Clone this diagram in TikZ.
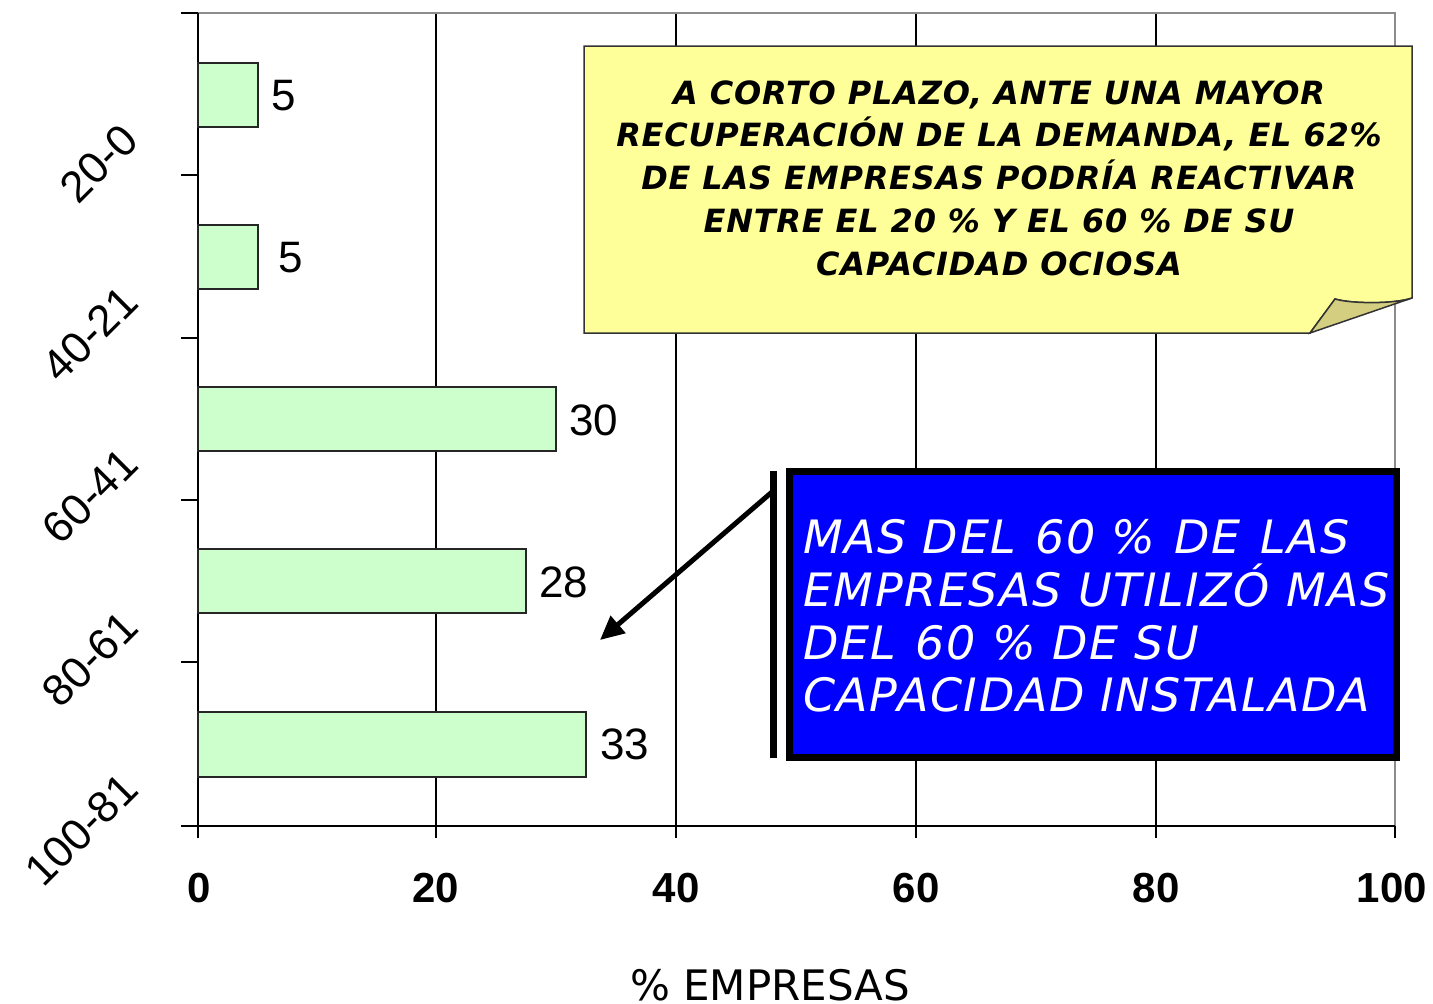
\documentclass[tikz,border=0pt]{standalone}
\usepackage{fontspec}
\setmainfont{Liberation Sans}
\newfontfamily\djv{DejaVu Sans}[BoldFont={DejaVu Sans Bold},ItalicFont={DejaVu Sans Oblique},BoldItalicFont={DejaVu Sans Bold Oblique}]
\usetikzlibrary{arrows.meta}
\definecolor{barfill}{RGB}{204,255,204}
\definecolor{note}{RGB}{255,255,153}
\definecolor{fold}{RGB}{212,206,128}
\definecolor{boxblue}{RGB}{0,0,255}
\definecolor{framegray}{RGB}{140,140,140}
\begin{document}
\begin{tikzpicture}[x=1pt,y=-1pt,
  barbox/.style={draw=black!85, line width=1.5pt, fill=barfill},
  gridline/.style={black, line width=1.5pt},
  axisline/.style={black, line width=2pt},
  vallab/.style={font=\fontsize{44}{44}\selectfont, anchor=west, inner sep=0pt},
  ticklab/.style={font=\bfseries\fontsize{42}{42}\selectfont, inner sep=0pt},
  catlab/.style={font=\fontsize{44}{44}\selectfont, rotate=45, anchor=east, inner sep=0pt}]
\useasboundingbox (0,0) rectangle (1433,1004);
\fill[white] (0,0) rectangle (1433,1004);
% grid and frame
\foreach \x in {436,676,916,1156} \draw[gridline] (\x,13) -- (\x,838);
\draw[framegray, line width=2pt] (198,13) -- (1395,13) -- (1395,826);
\draw[gridline] (1395,826) -- (1395,838);
\draw[axisline] (198,13) -- (198,838);
\draw[axisline] (181,826) -- (1395,826);
\foreach \y in {13,175,338,500,662} \draw[axisline] (181,\y) -- (198,\y);
% bars
\draw[barbox] (198,63) rectangle (258,127);
\draw[barbox] (198,225) rectangle (258,289);
\draw[barbox] (198,387) rectangle (556,451);
\draw[barbox] (198,549) rectangle (526,613);
\draw[barbox] (198,712) rectangle (586,777);
% value labels
\node[vallab] (v1) at (271,96) {5};
\node[vallab] (v2) at (278,258) {5};
\node[vallab] (v3) at (569,420) {30};
\node[vallab] (v4) at (539,582) {28};
\node[vallab] (v5) at (600,744) {33};
% category labels
\node[catlab] (c1) at (130,132) {20-0};
\node[catlab] (c2) at (130,294) {40-21};
\node[catlab] (c3) at (130,456) {60-41};
\node[catlab] (c4) at (130,619) {80-61};
\node[catlab] (c5) at (130,781) {100-81};
% tick labels
\node[ticklab] (t0) at (199,888) {0};
\node[ticklab] (t1) at (436,888) {20};
\node[ticklab] (t2) at (676,888) {40};
\node[ticklab] (t3) at (916,888) {60};
\node[ticklab] (t4) at (1156,888) {80};
\node[ticklab] (t5) at (1392,888) {100};
\node[font=\djv\fontsize{42}{42}\selectfont, anchor=base, inner sep=0pt] (xt) at (770,1000) {\% EMPRESAS};
% yellow note
\draw[fill=note, draw=black!80, line width=1.5pt] (584,46) -- (1412,46) -- (1412,298)
  .. controls (1395,304) and (1352,304) .. (1335,299) -- (1310,333) -- (584,333) -- cycle;
\draw[fill=fold, draw=black!80, line width=1.5pt] (1310,333) -- (1335,299)
  .. controls (1352,304) and (1395,304) .. (1412,298) -- cycle;
\node[font=\djv\bfseries\itshape\fontsize{32}{42.8}\selectfont\addfontfeature{LetterSpace=2.5}, align=center, inner sep=0pt] (notetext) at (999,178)
  {A CORTO PLAZO, ANTE UNA MAYOR\\RECUPERACIÓN DE LA DEMANDA, EL 62\%\\DE LAS EMPRESAS PODRÍA REACTIVAR\\ENTRE EL 20 \% Y EL 60 \% DE SU\\CAPACIDAD OCIOSA};
% blue box
\draw[fill=boxblue, line width=7pt] (789,471) rectangle (1396,757);
\draw[line width=7pt] (773,471) -- (773,758);
\node[font=\djv\itshape\fontsize{46}{52.7}\selectfont\addfontfeature{LetterSpace=3.5}, text=white, align=left, anchor=west, inner sep=0pt] (boxtext) at (803,616)
  {MAS DEL\hspace{3pt} 60 \%\hspace{3pt} DE\hspace{3pt} LAS\\EMPRESAS UTILIZÓ MAS\\DEL\hspace{3pt} 60 \% DE SU\\CAPACIDAD INSTALADA};
\coordinate (arrs) at (772,492);
\coordinate (arre) at (600,640);
\draw[line width=5pt, -{Triangle[length=24pt,width=22pt]}] (arrs) -- (arre);
\end{tikzpicture}
\end{document}
